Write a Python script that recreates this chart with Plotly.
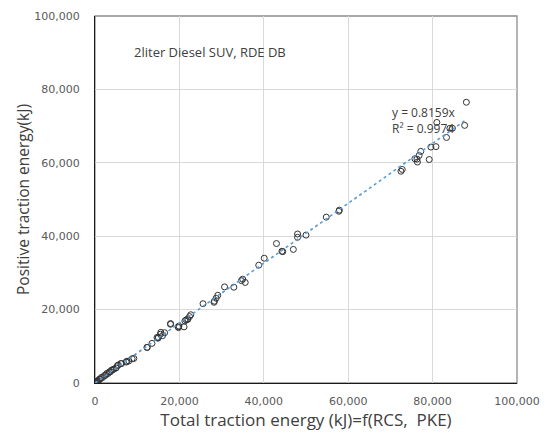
import plotly.graph_objects as go

# Total traction energy (kJ) computed from RCS and PKE, per trip
total_kj = [
    0, 150, 300, 450, 600, 800, 1000, 1200, 1500, 1800, 2200, 2500, 2800, 3100,
    3400, 3700, 3900, 4200, 4500, 5000, 5300, 5500, 6100, 6300, 7400, 7500, 8000,
    8800, 9200, 12300, 12400, 13500, 14700, 14900, 15000, 15500, 15600, 16000,
    16500, 17900, 17900, 19700, 19800, 19900, 21100, 21300, 21600, 21900, 22000,
    22400, 22700, 25600, 28200, 28300, 28700, 29100, 30700, 32900, 34700, 35000,
    35600, 38800, 40100, 43000, 44300, 44500, 47000, 48000, 48000, 50000, 54800,
    57800, 57900, 72500, 72800, 75800, 76300, 76400, 76800, 77200, 79200, 79600,
    80800, 81000, 83300, 84100, 84700, 87600, 88000,
]

# Positive traction energy (kJ), same trips
positive_kj = [
    0, 100, 250, 350, 550, 650, 1000, 1050, 1500, 1500, 2000, 2100, 2600, 2600,
    3000, 3100, 3500, 3600, 3800, 4100, 4700, 4900, 5300, 5300, 5700, 5900, 6000,
    6600, 6700, 9700, 9700, 10800, 12400, 12200, 12400, 13300, 13800, 12900,
    13700, 16000, 16200, 15300, 15100, 15500, 15300, 16900, 17200, 17300, 17400,
    18100, 18600, 21600, 22000, 22300, 23100, 23900, 26200, 26100, 27900, 28300,
    27400, 32100, 34000, 38000, 35900, 35800, 36400, 40600, 39700, 40300, 45200,
    46800, 47100, 57700, 58200, 61100, 61000, 60200, 62000, 63100, 60900, 64300,
    64400, 71000, 66900, 69400, 69400, 70200, 76500,
]

slope = 0.8159
r_squared = 0.9974
trend_x = [0, 88000]
trend_y = [slope * v for v in trend_x]

tick_vals = [0, 20000, 40000, 60000, 80000, 100000]
tick_text = ["0", "20,000", "40,000", "60,000", "80,000", "100,000"]

fig = go.Figure()

fig.add_trace(go.Scatter(
    x=total_kj, y=positive_kj, mode="markers",
    marker=dict(symbol="circle-open", size=6, color="#333333", line=dict(width=1)),
    showlegend=False, hoverinfo="x+y",
))

fig.add_trace(go.Scatter(
    x=trend_x, y=trend_y, mode="lines",
    line=dict(color="#5B9BD5", width=1.6, dash="dot"),
    showlegend=False, hoverinfo="skip",
))

axis_common = dict(
    range=[0, 100000], tickvals=tick_vals, ticktext=tick_text,
    showgrid=True, gridcolor="#d9d9d9", gridwidth=1,
    showline=True, linecolor="#1a1a1a", linewidth=1.3,
    zeroline=False, ticks="",
    tickfont=dict(family="DejaVu Sans", size=11, color="#595959"),
)

fig.update_xaxes(
    **axis_common,
    ticklabelstandoff=8,
    title=dict(text="Total traction energy (kJ)=f(RCS,  PKE)", standoff=6,
               font=dict(family="Open Sans", size=17, color="#404040")),
)
fig.update_yaxes(
    **axis_common,
    ticklabelstandoff=12,
    title=dict(text="Positive traction energy(kJ)", standoff=0,
               font=dict(family="Open Sans", size=15.5, color="#404040")),
)

# grey frame on the top and right edges of the plot area
fig.add_shape(type="rect", xref="x domain", yref="y domain", x0=0, x1=1, y0=0, y1=1,
              line=dict(color="#8c8c8c", width=1.3), layer="below")

fig.add_annotation(
    x=8800, y=90100, xref="x", yref="y", xanchor="left", yanchor="middle",
    text="2liter Diesel SUV, RDE DB", showarrow=False,
    font=dict(family="Open Sans", size=13, color="#404040"),
)
fig.add_annotation(
    x=70000, y=71600, xref="x", yref="y", xanchor="left", yanchor="middle",
    text=f"y = {slope}x<br>R² = {r_squared}", showarrow=False, align="left",
    font=dict(family="Open Sans", size=12, color="#404040"),
)

fig.update_layout(
    width=550, height=436,
    margin=dict(l=95, r=30, t=10, b=53),
    paper_bgcolor="white", plot_bgcolor="white",
)

fig.write_html("out.html")
